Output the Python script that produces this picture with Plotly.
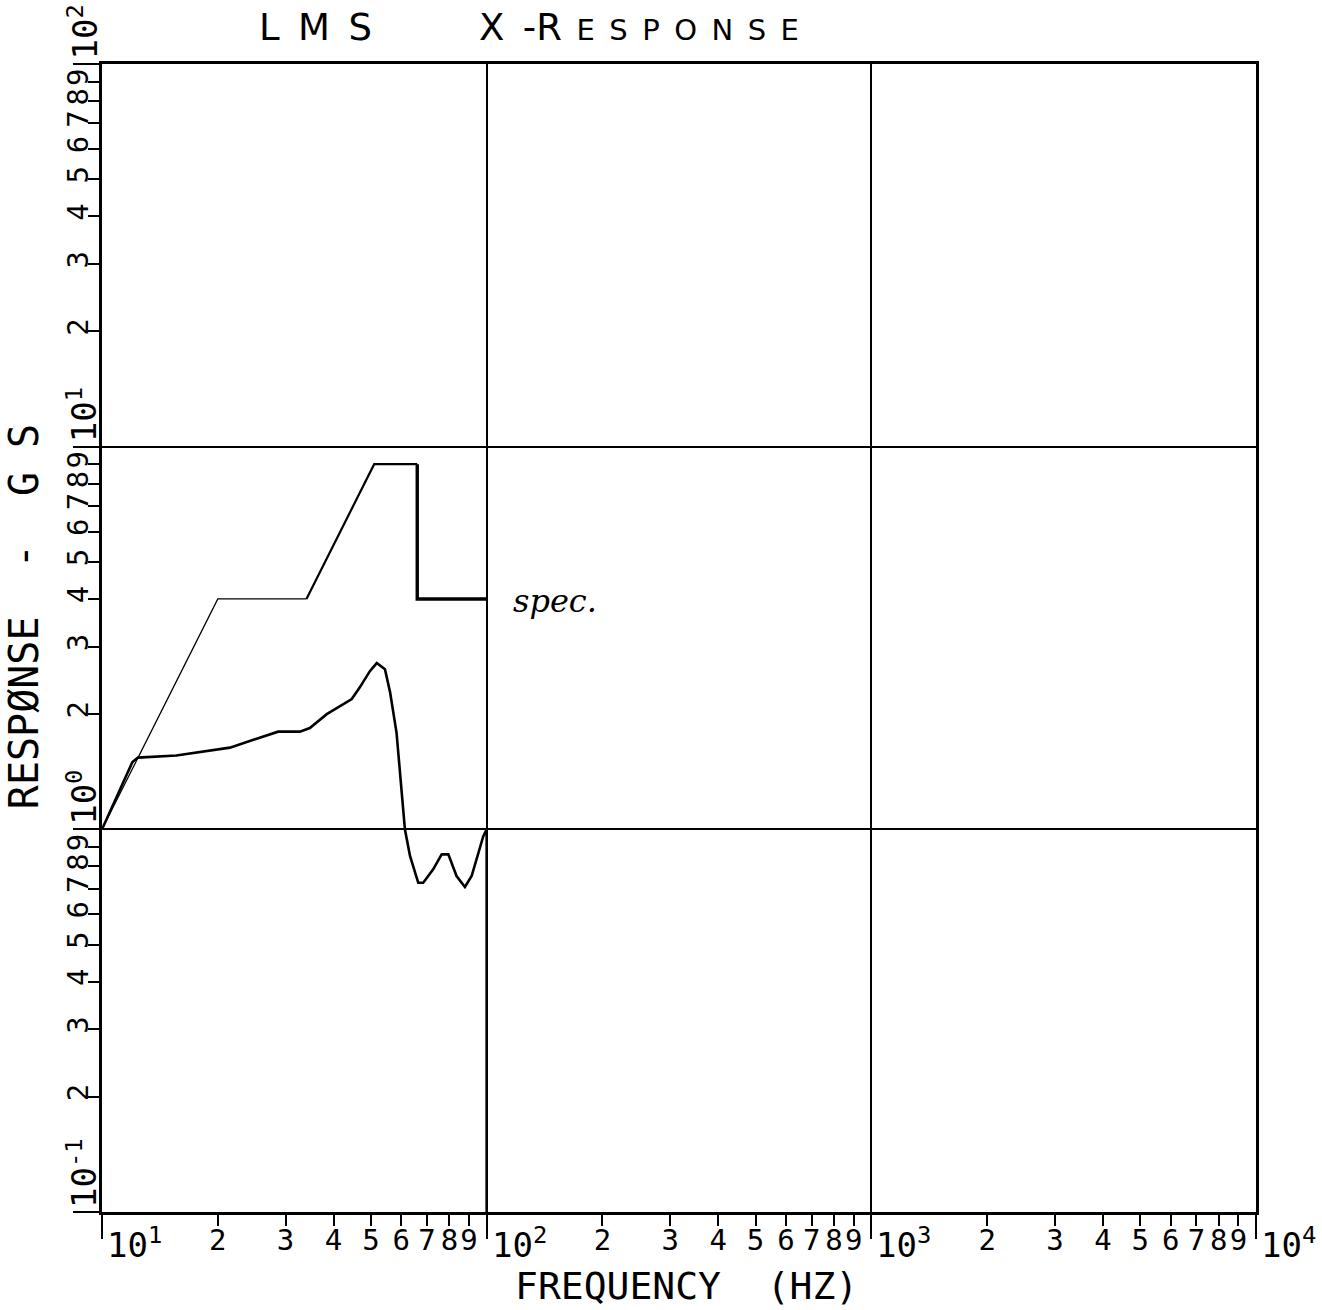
import numpy as np
import plotly.graph_objects as go

# ---------------- data ----------------
# Specification envelope, G vs Hz
spec_freq = [10, 20, 34, 51, 66, 66, 100]
spec_g = [1.0, 4.0, 4.0, 9.0, 9.0, 4.0, 4.0]

# Measured X-response, G vs Hz
resp_freq = [10, 12, 12.4, 15.6, 21.5, 24.2, 28.7, 32.7, 34.7, 38.4, 41.6, 44.6,
             46.8, 49.7, 51.8, 54.4, 56.1, 58.3, 61.3, 63.2, 66.4, 68.4, 72.6,
             76.4, 79.5, 83.5, 87.8, 91.4, 98.0, 100, 100]
resp_g = [1.0, 1.5, 1.54, 1.56, 1.635, 1.70, 1.80, 1.80, 1.84, 2.0, 2.10, 2.19,
          2.35, 2.59, 2.72, 2.62, 2.28, 1.79, 1.0, 0.852, 0.725, 0.725, 0.786,
          0.86, 0.86, 0.755, 0.707, 0.755, 0.96, 1.0, 0.1]

# axis decades and intermediate tick digits
x_decades = [10, 100, 1000, 10000]
y_decades = [0.1, 1, 10, 100]
tick_digits = [2, 3, 4, 5, 6, 7, 8, 9]
tick_labels = ["2", "3", "4", "5", "6", "7", "8", "9"]

title_left = "L\u2002M\u2002S"
title_right = ("X\u2002-R<span style='font-size:29px'>"
               "\u2002E\u2002S\u2002P\u2002O\u2002N\u2002S\u2002E</span>")
x_title = "FREQUENCY  (HZ)"
y_title = "RESPØNSE  -  G S"
spec_label = "spec."

# ---------------- derived tick arrays ----------------
x_tickvals, x_ticktext = [], []
for d in x_decades[:-1]:
    for m, lab in zip(tick_digits, tick_labels):
        x_tickvals.append(d * m)
        x_ticktext.append(lab)
y_tickvals, y_ticktext = [], []
for d in y_decades[:-1]:
    for m, lab in zip(tick_digits, tick_labels):
        y_tickvals.append(d * m)
        y_ticktext.append(lab)

MONO = "DejaVu Sans Mono"
BLACK = "black"

fig = go.Figure()
# spec envelope: faint first part, heavier remainder
fig.add_trace(go.Scatter(x=spec_freq[0:3], y=spec_g[0:3], mode="lines",
                         line=dict(color=BLACK, width=1.3), hoverinfo="skip"))
fig.add_trace(go.Scatter(x=spec_freq[2:5], y=spec_g[2:5], mode="lines",
                         line=dict(color=BLACK, width=2.2), hoverinfo="skip"))
fig.add_trace(go.Scatter(x=spec_freq[4:7], y=spec_g[4:7], mode="lines",
                         line=dict(color=BLACK, width=3.4), hoverinfo="skip"))
# response
fig.add_trace(go.Scatter(x=resp_freq, y=resp_g, mode="lines",
                         line=dict(color=BLACK, width=2.6), hoverinfo="skip"))

axis_common = dict(
    type="log", tickmode="array", ticks="outside", ticklen=11, tickwidth=2,
    tickcolor=BLACK, showline=True, linecolor=BLACK, linewidth=2.5, mirror=True,
    showgrid=False, zeroline=False,
    tickfont=dict(family=MONO, size=29, color=BLACK),
)

fig.update_xaxes(range=[np.log10(x_decades[0]), np.log10(x_decades[-1])],
                 tickvals=x_tickvals, ticktext=x_ticktext, ticklabelstandoff=-11,
                 minor=dict(tickmode="array", tickvals=x_decades, ticks="outside",
                            ticklen=24, tickwidth=2, tickcolor=BLACK,
                            showgrid=True, gridcolor=BLACK, gridwidth=2),
                 **axis_common)
fig.update_yaxes(range=[np.log10(y_decades[0]), np.log10(y_decades[-1])],
                 tickvals=y_tickvals, ticktext=y_ticktext, tickangle=-90,
                 ticklabelstandoff=-11,
                 minor=dict(tickmode="array", tickvals=y_decades, ticks="outside",
                            ticklen=26, tickwidth=2, tickcolor=BLACK,
                            showgrid=True, gridcolor=BLACK, gridwidth=2),
                 **axis_common)

ann = []
# decade labels on the x axis
for d in x_decades:
    e = int(round(np.log10(d)))
    ann.append(dict(text=f"10<sup>{e}</sup>", xref="x", x=np.log10(d), yref="paper", y=0,
                    xanchor="left", yanchor="top", xshift=3, yshift=-7,
                    showarrow=False, font=dict(family=MONO, size=34, color=BLACK)))
# decade labels on the y axis (rotated)
for d in y_decades:
    e = int(round(np.log10(d)))
    ann.append(dict(text=f"10<sup>{e}</sup>", xref="paper", x=0, yref="y", y=np.log10(d),
                    xanchor="right", yanchor="bottom", xshift=4, yshift=2, textangle=-90,
                    showarrow=False, font=dict(family=MONO, size=34, color=BLACK)))
# axis titles
ann.append(dict(text=x_title, xref="paper", x=0.5069, yref="paper", y=-0.0645,
                xanchor="center", yanchor="middle", showarrow=False,
                font=dict(family=MONO, size=38, color=BLACK)))
ann.append(dict(text=y_title, xref="paper", x=-0.0676, yref="paper", y=0.519,
                xanchor="center", yanchor="middle", textangle=-90, showarrow=False,
                font=dict(family=MONO, size=40, color=BLACK)))
# handwritten title and note
ann.append(dict(text=title_left, xref="paper", x=0.1846, yref="paper", y=1.0314,
                xanchor="center", yanchor="middle", showarrow=False,
                font=dict(family="DejaVu Sans", size=37, color=BLACK)))
ann.append(dict(text=title_right, xref="paper", x=0.4650, yref="paper", y=1.0314,
                xanchor="center", yanchor="middle", showarrow=False,
                font=dict(family="DejaVu Sans", size=37, color=BLACK)))
ann.append(dict(text=spec_label, xref="paper", x=0.3925, yref="paper", y=0.532,
                xanchor="center", yanchor="middle", showarrow=False,
                font=dict(family="DejaVu Serif", size=32, color=BLACK, style="italic")))

fig.update_layout(
    width=1322, height=1310,
    margin=dict(l=102, r=66, t=64, b=98, pad=0),
    paper_bgcolor="white", plot_bgcolor="white",
    showlegend=False, annotations=ann,
)

fig.write_html("out.html")
